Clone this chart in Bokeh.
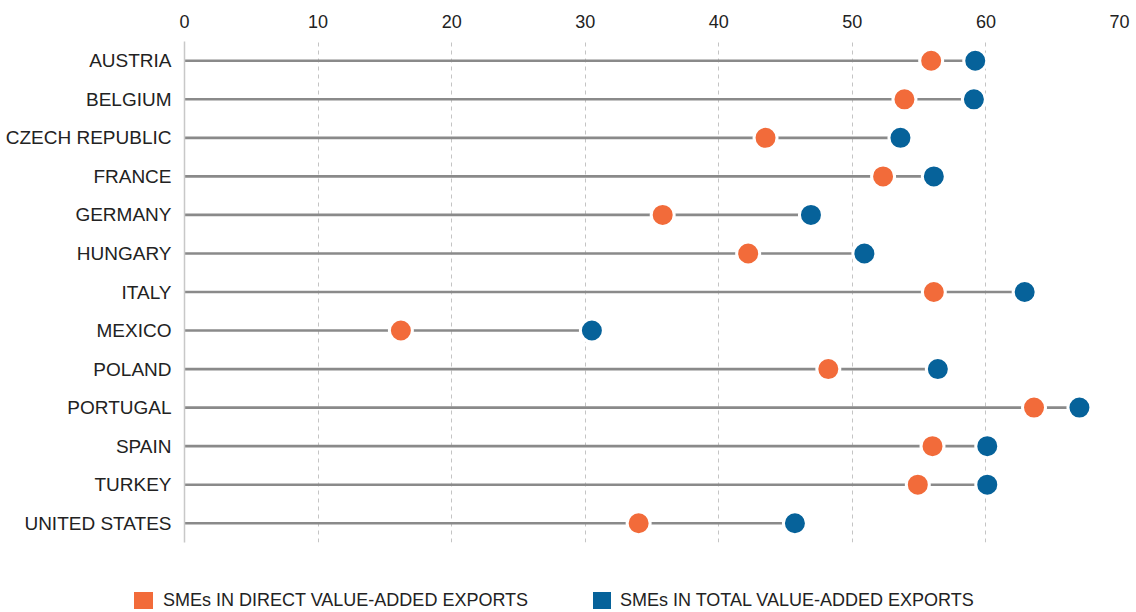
from bokeh.plotting import figure
from bokeh.layouts import column
from bokeh.models import Range1d, FactorRange, FixedTicker, ColumnDataSource, Div
from bokeh.embed import file_html
from bokeh.resources import INLINE

countries = ["AUSTRIA", "BELGIUM", "CZECH REPUBLIC", "FRANCE", "GERMANY", "HUNGARY",
             "ITALY", "MEXICO", "POLAND", "PORTUGAL", "SPAIN", "TURKEY", "UNITED STATES"]
direct = [55.9, 53.9, 43.5, 52.3, 35.8, 42.2, 56.1, 16.2, 48.2, 63.6, 56.0, 54.9, 34.0]
total = [59.2, 59.1, 53.6, 56.1, 46.9, 50.9, 62.9, 30.5, 56.4, 67.0, 60.1, 60.1, 45.7]
x_ticks = [0, 10, 20, 30, 40, 50, 60, 70]
series_names = ["SMEs IN DIRECT VALUE-ADDED EXPORTS", "SMEs IN TOTAL VALUE-ADDED EXPORTS"]

ORANGE = "#f26b3a"
BLUE = "#06629a"
FONT = "Liberation Sans"
TXT = "#222222"
W = 1130

src = ColumnDataSource(dict(
    country=countries,
    direct=direct,
    total=total,
    start=[0] * len(countries),
    end=[max(a, b) for a, b in zip(direct, total)],
))

p = figure(width=W, height=550, output_backend="svg", toolbar_location=None,
           x_range=Range1d(0, 70), y_range=FactorRange(*reversed(countries)),
           x_axis_location="above",
           min_border_left=184, min_border_right=11, min_border_top=41, min_border_bottom=8)
p.outline_line_color = None
p.background_fill_color = "white"
p.border_fill_color = "white"

# axes
xa = p.xaxis[0]
xa.ticker = FixedTicker(ticks=x_ticks)
xa.axis_line_color = None
xa.major_tick_line_color = None
xa.minor_tick_line_color = None
xa.major_label_text_font = FONT
xa.major_label_text_font_size = "18px"
xa.major_label_text_color = TXT
xa.major_label_standoff = 8

ya = p.yaxis[0]
ya.axis_line_color = "#c8c8c8"
ya.axis_line_width = 1.5
ya.major_tick_line_color = None
ya.minor_tick_line_color = None
ya.major_label_text_font = FONT
ya.major_label_text_font_size = "19px"
ya.major_label_text_color = TXT
ya.major_label_standoff = 7

p.ygrid.grid_line_color = None
p.xgrid.ticker = FixedTicker(ticks=x_ticks[1:])
p.xgrid.grid_line_color = "#c4c4c4"
p.xgrid.grid_line_dash = "4 4"
p.xgrid.grid_line_width = 1

# lines
p.segment(x0="start", y0="country", x1="end", y1="country", source=src,
          line_color="#8a8a8a", line_width=2.6)

# dots
p.scatter(x="direct", y="country", source=src, size=23, fill_color=ORANGE,
          line_color="white", line_width=3)
p.scatter(x="total", y="country", source=src, size=23, fill_color=BLUE,
          line_color="white", line_width=3)

# legend strip (HTML)
def item(color, label, sq_left, txt_left, sq_w):
    return (
        f'<span style="position:absolute;left:{sq_left}px;top:42px;width:{sq_w}px;height:17px;'
        f'background:{color};"></span>'
        f'<span style="position:absolute;left:{txt_left}px;top:40px;height:21px;line-height:21px;'
        f'white-space:nowrap;font-family:\'{FONT}\';font-size:18px;color:{TXT};">{label}</span>'
    )

html = ('<div style="position:relative;width:%dpx;height:62px;">' % W
        + item(ORANGE, series_names[0], 134, 163, 19)
        + item(BLUE, series_names[1], 593, 620, 18)
        + '</div>')
legend_div = Div(text=html, width=W, height=62, margin=0)

layout = column(p, legend_div, spacing=0)
open("out.html", "w").write(file_html(layout, INLINE))
